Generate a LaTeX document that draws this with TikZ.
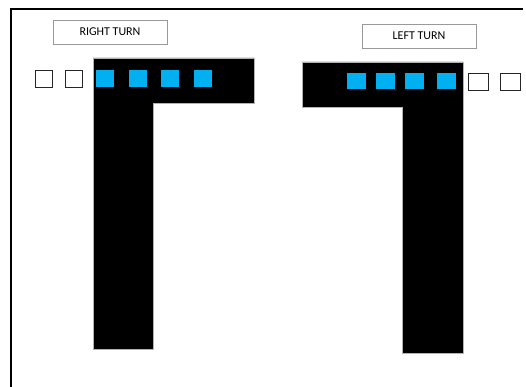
\documentclass[tikz,border=0pt]{standalone}
\usepackage{fontspec}
\setmainfont{Carlito}
\usetikzlibrary{positioning}
\definecolor{lane}{HTML}{00B0F0}

\begin{document}
\begin{tikzpicture}[
  x=1pt,y=-1pt,
  road/.style={fill=black,draw=gray!60,line width=0.4pt},
  tag/.style={draw=gray!80,line width=0.6pt,minimum width=114pt,minimum height=24pt,inner sep=0pt,font=\fontsize{12}{13}\selectfont},
  bsq/.style={fill=lane,minimum width=18pt,minimum height=17pt,inner sep=0pt},
  wsq/.style={draw=black!85,fill=white,line width=0.6pt,minimum width=17pt,minimum height=17pt,inner sep=0pt},
]
  \useasboundingbox (0,0) rectangle (526,387);
  \draw[line width=2pt] (11,387) |- (523,9);

  % right turn
  \node[tag] (rtag) at (110,32) {RIGHT TURN};
  \fill[road] (93,58) -| (254,103) -| (153,349) -| cycle;
  \foreach \x [count=\i] in {104.5,137.5,169.5,202.5}
    \node[bsq] (rb\i) at (\x,78.5) {};
  \node[wsq] (rw1) at (44,78.5) {};
  \node[wsq] (rw2) at (74,78.5) {};

  % left turn
  \node[tag] (ltag) at (419,36) {LEFT TURN};
  \fill[road] (302,62) -| (463,353) -| (402,107) -| cycle;
  \foreach \x [count=\i] in {356,385,414.5,446.5}
    \node[bsq,minimum width=19pt,minimum height=16pt] (lb\i) at (\x,81) {};
  \node[wsq,minimum width=20pt] (lw1) at (478,81.5) {};
  \node[wsq,minimum width=20pt] (lw2) at (510.5,81.5) {};
\end{tikzpicture}
\end{document}
